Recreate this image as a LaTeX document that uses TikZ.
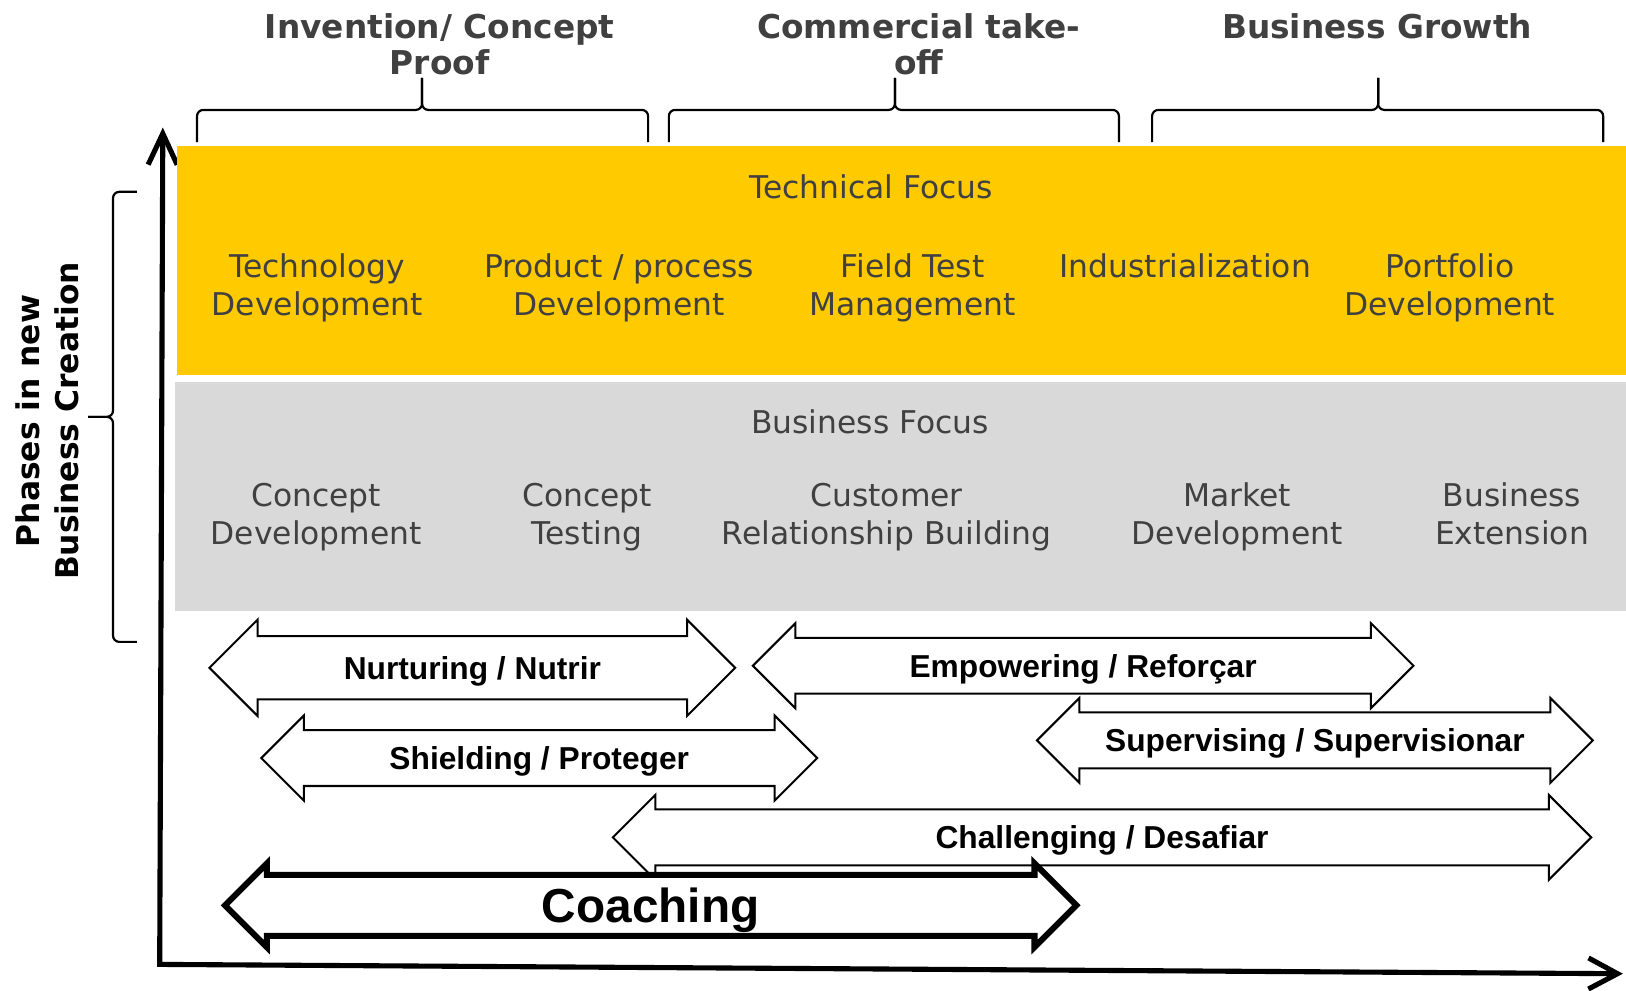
\documentclass[tikz,border=0pt]{standalone}
\usepackage{fontspec}
\usepackage{tikz}
\usetikzlibrary{calc,positioning,shapes,arrows.meta}
\newfontfamily\verd{DejaVu Sans}
\newfontfamily\arial{Liberation Sans}
\definecolor{techyellow}{HTML}{FFCA00}
\definecolor{busgray}{HTML}{D9D9D9}
\definecolor{txtgray}{HTML}{404040}

\begin{document}
\begin{tikzpicture}[x=0.1mm, y=-0.1mm]
\tikzstyle{phase}=[align=center, text=txtgray, inner sep=0pt,
                   font=\verd\bfseries\fontsize{9}{10}\selectfont]
\tikzstyle{item}=[align=center, text=txtgray, inner sep=0pt,
                  font=\verd\fontsize{8.6}{10.5}\selectfont]
\tikzstyle{blk}=[double arrow, draw, fill=white, line width=0.55pt,
                 double arrow head extend=1.4mm, inner sep=0pt,
                 text height=3.7mm, text depth=1.5mm,
                 font=\arial\bfseries\fontsize{8.7}{10}\selectfont]
\tikzstyle{axis}=[line width=1.4pt, line cap=round, line join=miter]
\tikzstyle{brc}=[semithick, rounded corners=0.6mm]
\useasboundingbox (0,0) rectangle (1568,955);

% axes
\coordinate (ytop) at (157,123);
\coordinate (origin) at (154,930);
\coordinate (xend) at (1565,939);
\draw[axis, {Straight Barb[length=3mm,width=2.8mm]}-{Straight Barb[length=2.8mm,width=3mm]}]
  (ytop) -- (origin) -- (xend);

% focus bands
\fill[techyellow] (171,141) rectangle (1568,362);
\fill[busgray] (169,368) rectangle (1568,589);

\node[item] (techf) at (840,180) {Technical Focus};
\foreach \n/\x/\t in {tdev/306/{Technology\\Development}, pdev/597/{Product / process\\Development},
                      ftm/880/{Field Test\\Management}, pfd/1398/{Portfolio\\Development}}
  {\node[item] (\n) at (\x,277.5) {\t};}
\node[item] (ind) at (1143,256) {Industrialization};

\node[item] (busf) at (839,407) {Business Focus};
\foreach \n/\x/\t in {cdev/305/{Concept\\Development}, ctest/566/{Concept\\Testing},
                      crb/855/{Customer\\Relationship Building}, mdev/1193/{Market\\Development}}
  {\node[item] (\n) at (\x,498.5) {\t};}
\node[item] (bext) at (1458,495.5) {Business\\Extension};

% phases
\node[phase] (inv) at (424,42.5) {Invention/ Concept\\Proof};
\node[phase] (com) at (886,42.5) {Commercial take-\\off};
\node[phase] (grow) at (1328,25) {Business Growth};
\foreach \a/\m/\b in {190/407/625, 645/863/1079, 1111/1329/1546}
  {\draw[brc] (\a,137) -- (\a,106) -- (\m,106) -- (\m,75);
   \draw[brc] (\b,137) -- (\b,106) -- (\m,106) -- (\m,75);}

\node[rotate=90, align=center, inner sep=0pt,
      font=\verd\bfseries\fontsize{8.6}{10.5}\selectfont] (phases) at (45.5,406)
  {Phases in new\\Business Creation};
\draw[brc] (132,185) -- (109,185) -- (109,402) -- (85,402);
\draw[brc] (132,619) -- (109,619) -- (109,402) -- (85,402);

% roles
\node[blk, minimum height=50.7mm, double arrow head extend=1.6mm,
      text height=4.05mm, text depth=1.85mm] (nurt) at (455.5,644) {Nurturing / Nutrir};
\foreach \n/\x/\y/\l/\t in {emp/1044.5/642/63.7/{Empowering / Reforçar},
                            sup/1268/714/53.6/{Supervising / Supervisionar},
                            shd/520/731/53.6/{Shielding / Proteger},
                            chl/1062.75/807.5/94.35/{Challenging / Desafiar}}
  {\node[blk, minimum height=\l mm] (\n) at (\x,\y) {\t};}
\node[blk, line width=1.65pt, minimum height=82.1mm, double arrow head extend=1.1mm,
      text height=4.3mm, text depth=1.0mm,
      font=\arial\bfseries\fontsize{13.1}{15}\selectfont] (coach) at (627.5,873) {Coaching};
\end{tikzpicture}
\end{document}
